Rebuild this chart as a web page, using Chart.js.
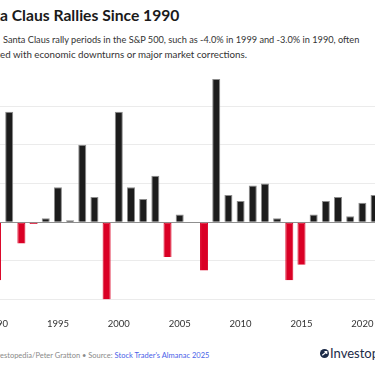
<!DOCTYPE html>
<html lang="en">
<head>
  <meta charset="UTF-8">
  <meta name="viewport" content="width=device-width, initial-scale=1.0">
  <title>Santa Claus Rallies Since 1990</title>
  <script src="https://cdn.jsdelivr.net/npm/chart.js"></script>
  <style>
    body {
      margin: 0;
      width: 375px;
      height: 366px;
      overflow: hidden;
      position: relative;
      background: #ffffff;
      font-family: 'Lato', sans-serif;
      color: #1a1a1a;
    }
    .line {
      position: absolute;
      white-space: nowrap;
    }
    .title {
      top: 6px;
      font-size: 16.8px;
      font-weight: 700;
    }
    .sub {
      font-size: 10px;
      color: #333;
    }
    .credit {
      top: 351px;
      font-size: 7.8px;
      color: #8a8a8a;
    }
    .credit a {
      color: #4a62e8;
      text-decoration: none;
    }
    .logo {
      left: 320px;
      top: 345px;
      font-size: 13px;
      color: #1b2a47;
      display: flex;
      align-items: center;
      gap: 1px;
    }
    .chartBox {
      position: absolute;
      left: -17px;
      top: 77px;
      width: 422px;
      height: 256px;
    }
  </style>
</head>
<body>
  <div class="line title" data-x="0" data-end="180"><span class="cut">Sant</span>a Claus Rallies Since 1990</div>
  <div class="line sub" data-x="3" data-end="360" style="top:34px;"><span class="cut"></span> Santa Claus rally periods in the S&amp;P 500, such as -4.0% in 1999 and -3.0% in 1990, often</div>
  <div class="line sub" data-x="0" data-end="247" style="top:48px;"><span class="cut">associat</span>ed with economic downturns or major market corrections.</div>

  <div class="chartBox"><canvas id="rallyChart"></canvas></div>

  <div class="line credit" data-x="0" data-end="210"><span class="cut">Inv</span>estopedia/Peter Gratton • Source: <a>Stock Trader's Almanac 2025</a></div>
  <div class="line logo">
    <svg width="9" height="9" viewBox="0 0 10 10"><circle cx="5" cy="5" r="5" fill="#1b2a47"/><path d="M2.5 7 L7.5 3 M5 3 H7.5 V5.5" stroke="#fff" stroke-width="1.3" fill="none"/></svg>
    <span>Investopedia</span>
  </div>

  <script>
    // Santa Claus rally returns (%), S&P 500
    const years = ['1990','1991','1992','1993','1994','1995','1996','1997','1998','1999',
                   '2000','2001','2002','2003','2004','2005','2006','2007','2008','2009',
                   '2010','2011','2012','2013','2014','2015','2016','2017','2018','2019',
                   '2020','2021','2022','2023'];
    const returns = [-3.0, 5.7, -1.1, -0.1, 0.2, 1.8, 0.1, 4.0, 1.3, -4.0,
                     5.7, 1.8, 1.2, 2.4, -1.8, 0.4, 0.0, -2.5, 7.4, 1.4,
                     1.1, 1.9, 2.0, 0.2, -3.0, -2.2, 0.4, 1.1, 1.3, 0.3,
                     1.0, 1.4, 0.8, -0.9];
    const gridValues = [-4, -2, 0, 2, 4, 6];

    // page is cropped on the left: size each text line to its visible span,
    // then shift it so the cut part sits off-screen
    document.querySelectorAll('.line[data-x]').forEach(el => {
      const cut = el.querySelector('.cut');
      const target = Number(el.dataset.end) - Number(el.dataset.x);
      const fs = parseFloat(getComputedStyle(el).fontSize);
      const visible = el.scrollWidth - cut.offsetWidth;
      el.style.fontSize = (fs * target / visible).toFixed(2) + 'px';
      el.style.left = (Number(el.dataset.x) - cut.getBoundingClientRect().width) + 'px';
    });

    const ctx = document.getElementById('rallyChart').getContext('2d');
    new Chart(ctx, {
      type: 'bar',
      data: {
        labels: years,
        datasets: [{
          data: returns,
          backgroundColor: returns.map(v => v < 0 ? '#da0025' : '#1c1c1c'),
          borderColor: returns.map(v => v < 0 ? '#da0025' : '#8c8c8c'),
          borderWidth: { top: 1, left: 1, right: 1, bottom: 0 },
          borderSkipped: false,
          categoryPercentage: 1,
          barPercentage: 0.66
        }]
      },
      options: {
        responsive: true,
        maintainAspectRatio: false,
        animation: false,
        layout: { padding: 0 },
        plugins: {
          legend: { display: false },
          tooltip: { enabled: false }
        },
        scales: {
          x: {
            grid: { display: false, drawTicks: true, tickLength: 16 },
            border: { display: false },
            ticks: {
              autoSkip: false,
              maxRotation: 0,
              padding: 3,
              color: '#333',
              font: { family: 'Lato', size: 9.5 },
              callback: function (val) {
                const y = this.getLabelForValue(val);
                return Number(y) % 5 === 0 ? y : '';
              }
            }
          },
          y: {
            min: -4,
            max: 7.5,
            afterBuildTicks: axis => {
              axis.ticks = gridValues.map(v => ({ value: v }));
            },
            ticks: { display: false },
            border: { display: false },
            grid: {
              drawTicks: false,
              color: c => c.tick && c.tick.value === 0 ? '#8f8f8f' : '#ebebeb',
              lineWidth: 1
            }
          }
        }
      }
    });
  </script>
</body>
</html>
